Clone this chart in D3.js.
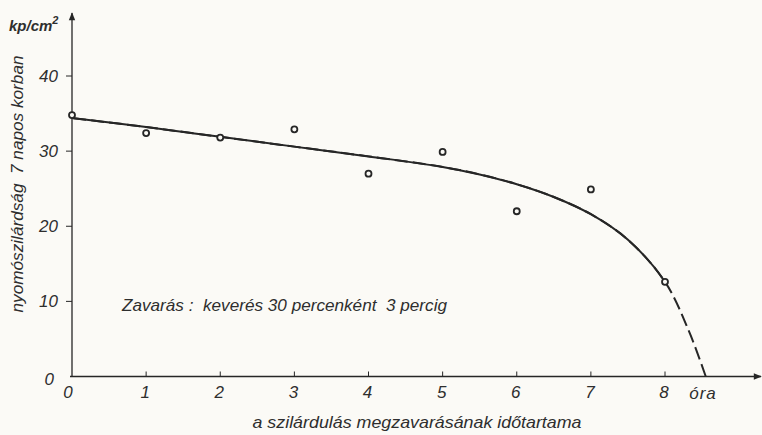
<!DOCTYPE html>
<html>
<head>
    <meta charset="utf-8">
    <script src="https://cdn.jsdelivr.net/npm/d3@7"></script>
    <style>
        body { margin: 0; background: #fbfaf6; }
        svg { display: block; font-family: "Liberation Sans", sans-serif; font-style: italic; }
        text { fill: #2e2e2e; white-space: pre; }
    </style>
</head>
<body>
    <div id="chart"></div>
    <script>
        const width = 762;
        const height = 435;

        // measured points (hours, kp/cm2)
        const hours = [0, 1, 2, 3, 4, 5, 6, 7, 8];
        const strength = [34.8, 32.4, 31.8, 32.9, 27.0, 29.9, 22.0, 24.9, 12.6];

        // fitted curve; beyond 8 hours it is drawn dashed
        const curveX = [0, 1, 2, 3, 4, 5, 5.5, 6, 6.5, 7, 7.5, 8, 8.32, 8.55];
        const curveY = [34.4, 33.2, 31.9, 30.6, 29.3, 27.9, 26.9, 25.6, 23.9, 21.6, 18.2, 12.6, 6.1, 0];
        const solidUntil = 8;

        const xTicks = [0, 1, 2, 3, 4, 5, 6, 7, 8];
        const yTicks = [10, 20, 30, 40];

        const svg = d3.select("#chart")
            .append("svg")
            .attr("width", width)
            .attr("height", height);

        const x = d3.scaleLinear().domain([0, 8]).range([72, 665]);
        const y = d3.scaleLinear().domain([0, 40]).range([376.5, 76]);

        const ink = "#262626";

        // arrow heads
        const defs = svg.append("defs");
        defs.append("marker")
            .attr("id", "arrow")
            .attr("viewBox", "0 0 10 10")
            .attr("refX", 9).attr("refY", 5)
            .attr("markerWidth", 13).attr("markerHeight", 8)
            .attr("markerUnits", "userSpaceOnUse")
            .attr("orient", "auto")
            .append("path")
            .attr("d", "M0,1 L10,5 L0,9 Z")
            .attr("fill", ink);

        // x axis
        svg.append("line")
            .attr("x1", x(0) - 2).attr("x2", 761)
            .attr("y1", y(0)).attr("y2", y(0))
            .attr("stroke", ink).attr("stroke-width", 1.3)
            .attr("marker-end", "url(#arrow)");

        // y axis
        svg.append("line")
            .attr("x1", x(0)).attr("x2", x(0))
            .attr("y1", y(0)).attr("y2", 13)
            .attr("stroke", ink).attr("stroke-width", 1.3)
            .attr("marker-end", "url(#arrow)");

        // ticks
        svg.selectAll(".xtick")
            .data(xTicks.slice(1))
            .join("line")
            .attr("class", "xtick")
            .attr("x1", d => x(d)).attr("x2", d => x(d))
            .attr("y1", y(0)).attr("y2", y(0) - 5)
            .attr("stroke", ink).attr("stroke-width", 1);

        svg.selectAll(".ytick")
            .data(yTicks)
            .join("line")
            .attr("class", "ytick")
            .attr("x1", x(0) - 6).attr("x2", x(0))
            .attr("y1", d => y(d)).attr("y2", d => y(d))
            .attr("stroke", ink).attr("stroke-width", 1);

        // tick labels
        svg.selectAll(".xlab")
            .data(xTicks)
            .join("text")
            .attr("class", "xlab")
            .attr("x", d => x(d) - (d === 0 ? 4 : 1))
            .attr("y", 398)
            .attr("text-anchor", "middle")
            .attr("font-size", 17)
            .text(d => d);

        svg.selectAll(".ylab")
            .data(yTicks)
            .join("text")
            .attr("class", "ylab")
            .attr("x", 58)
            .attr("y", d => y(d) + 6)
            .attr("text-anchor", "end")
            .attr("font-size", 17)
            .text(d => d);

        svg.append("text")
            .attr("x", 54).attr("y", 385)
            .attr("text-anchor", "end")
            .attr("font-size", 17)
            .text("0");

        svg.append("text")
            .attr("x", 703).attr("y", 399)
            .attr("text-anchor", "middle")
            .attr("font-size", 17)
            .attr("letter-spacing", 1)
            .text("óra");

        // unit
        const unit = svg.append("text")
            .attr("x", 9).attr("y", 31)
            .attr("font-size", 15)
            .attr("font-weight", "bold");
        unit.append("tspan").text("kp/cm");
        unit.append("tspan").attr("dy", -7).attr("font-size", 11).text("2");

        // axis titles
        svg.append("text")
            .attr("transform", "translate(23, 184) rotate(-90)")
            .attr("text-anchor", "middle")
            .attr("font-size", 17)
            .attr("textLength", 257)
            .attr("lengthAdjust", "spacingAndGlyphs")
            .text("nyomószilárdság  7 napos korban");

        svg.append("text")
            .attr("x", 417).attr("y", 428)
            .attr("text-anchor", "middle")
            .attr("font-size", 17)
            .attr("textLength", 329)
            .attr("lengthAdjust", "spacingAndGlyphs")
            .text("a szilárdulás megzavarásának időtartama");

        // annotation
        svg.append("text")
            .attr("x", 122).attr("y", 311)
            .attr("font-size", 17)
            .attr("textLength", 325)
            .attr("lengthAdjust", "spacingAndGlyphs")
            .text("Zavarás :  keverés 30 percenként  3 percig");

        // curve: one path, solid up to 8 hours, dashed after
        const line = d3.line()
            .x(d => x(d[0]))
            .y(d => y(d[1]))
            .curve(d3.curveCatmullRom.alpha(0.5));

        const curveData = curveX.map((v, i) => [v, curveY[i]]);

        const dashed = svg.append("path")
            .datum(curveData)
            .attr("d", line)
            .attr("fill", "none")
            .attr("stroke", ink)
            .attr("stroke-width", 2);

        const node = dashed.node();
        const total = node.getTotalLength();
        // find length along path where x reaches solidUntil
        let lo = 0, hi = total;
        for (let k = 0; k < 40; k++) {
            const mid = (lo + hi) / 2;
            if (node.getPointAtLength(mid).x < x(solidUntil)) lo = mid; else hi = mid;
        }
        const split = lo;
        dashed.attr("stroke-dasharray", "13,5")
            .attr("stroke-dashoffset", -split);

        svg.append("path")
            .datum(curveData)
            .attr("d", line)
            .attr("fill", "none")
            .attr("stroke", ink)
            .attr("stroke-width", 2)
            .attr("stroke-dasharray", `${split},${total}`);

        // points
        svg.selectAll(".pt")
            .data(hours.map((h, i) => [h, strength[i]]))
            .join("circle")
            .attr("class", "pt")
            .attr("cx", d => x(d[0]))
            .attr("cy", d => y(d[1]))
            .attr("r", 3)
            .attr("fill", "#fbfaf6")
            .attr("stroke", ink)
            .attr("stroke-width", 1.8);
    </script>
</body>
</html>
